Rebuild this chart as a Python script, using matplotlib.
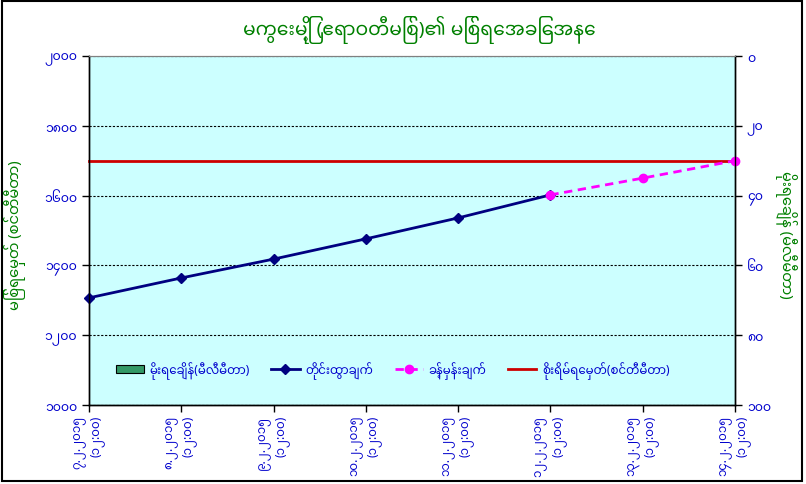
import matplotlib
matplotlib.use("Agg")
import matplotlib.pyplot as plt
from matplotlib import font_manager
from matplotlib.ft2font import FT2Font
from matplotlib.patches import Rectangle
import numpy as np

# ── data ────────────────────────────────────────────────────────────────
dates = ["၇.၂.၂၀၁၅", "၈.၂.၂၀၁၅", "၉.၂.၂၀၁၅", "၁၀.၂.၂၀၁၅",
         "၁၁.၂.၂၀၁၅", "၁၂.၂.၂၀၁၅", "၁၃.၂.၂၀၁၅", "၁၄.၂.၂၀၁၅"]
obs_time = "(၁၂:၀၀)"
rainfall = [0, 0, 0, 0, 0, 0, 0, 0]
measured = [1307, 1364, 1418, 1476, 1536, 1602, np.nan, np.nan]
forecast = [np.nan, np.nan, np.nan, np.nan, np.nan, 1602, 1650, 1700]
danger = [1700] * 8

level_ticks = [1000, 1200, 1400, 1600, 1800, 2000]
level_labels = ["၁၀၀၀", "၁၂၀၀", "၁၄၀၀", "၁၆၀၀", "၁၈၀၀", "၂၀၀၀"]
rain_ticks = [0, 20, 40, 60, 80, 100]
rain_labels = ["၀", "၂၀", "၄၀", "၆၀", "၈၀", "၁၀၀"]

title = "မကွေးမြို့ (ဧရာဝတီမြစ်)၏ မြစ်ရေအခြေအနေ"
left_label = "မြစ်ရေမှတ် (စင်တီမီတာ)"
right_label = "မိုးရေချိန် (မီလီမီတာ)"
series_names = ["မိုးရေချိန်(မီလီမီတာ)", "တိုင်းထွာချက်", "ခန့်မှန်းချက်",
                "စိုးရိမ်ရေမှတ်(စင်တီမီတာ)"]


def _myanmar_font():
    """Pick an installed font that has Myanmar glyphs (prefer the Noto one)."""
    found = []
    for f in font_manager.fontManager.ttflist:
        try:
            if 0x1000 in FT2Font(f.fname).get_charmap():
                found.append(f.name)
        except Exception:
            continue
    for pref in ("Noto Sans Myanmar", "Noto Sans Myanmar UI", "Padauk",
                 "Myanmar Text", "Pyidaungsu", "Myanmar3"):
        if pref in found:
            return pref
    return found[0] if found else None


_mm = _myanmar_font()
FAMILY = [_mm, "DejaVu Sans"] if _mm else ["DejaVu Sans"]
plt.rcParams["font.family"] = FAMILY

GREEN = "#008000"
BLUE = "#0000CC"
BG = "#CCFFFF"

fig = plt.figure(figsize=(8.06, 4.85), dpi=100)
fig.patch.set_facecolor("white")
ax = fig.add_axes([0.1104, 0.1629, 0.8015, 0.7196])
ax.set_facecolor(BG)
ax2 = ax.twinx()

x = np.arange(len(dates))

bars = ax2.bar(x, rainfall, width=0.5, color="#339966", linewidth=0,
               label=series_names[0])
l1, = ax.plot(x, measured, color="#000080", lw=2, marker="D", ms=5,
              clip_on=False, zorder=4, label=series_names[1])
l2, = ax.plot(x, forecast, color="#FF00FF", lw=2, ls=(0, (3, 2)), marker="o",
              ms=6, clip_on=False, zorder=4, label=series_names[2])
l3, = ax.plot(x, danger, color="#CC0000", lw=2, clip_on=False, zorder=3,
              label=series_names[3])

ax.set_xlim(0, len(dates) - 1)
ax.set_ylim(1000, 2000)
ax2.set_ylim(100, 0)

ax.set_yticks(level_ticks)
ax.set_yticklabels(level_labels)
ax2.set_yticks(rain_ticks)
ax2.set_yticklabels(rain_labels)
ax.set_xticks(x)
ax.set_xticklabels([f"{d}\n{obs_time}" for d in dates], rotation=90,
                   ha="center", va="top", multialignment="right",
                   linespacing=1.25)

ax.set_axisbelow(True)
ax.yaxis.grid(True, color="black", lw=0.8, ls=(0, (2, 1.5)))

for a in (ax, ax2):
    a.tick_params(colors="black", labelcolor=BLUE, labelsize=9, length=5,
                  direction="out", width=1)
    for lab in a.get_xticklabels() + a.get_yticklabels():
        lab.set_fontweight("bold")
    a.spines["top"].set_color("#808080")
    a.spines["top"].set_linewidth(0.8)
    for s in ("left", "right", "bottom"):
        a.spines[s].set_color("black")
        a.spines[s].set_linewidth(1)
ax.tick_params(axis="x", labelsize=8.5, pad=2)

fig.text(0.52, 0.938, title, ha="center", va="center", color=GREEN,
         fontsize=13.5, fontweight="bold")
fig.text(0.019, 0.515, left_label, ha="center", va="center", rotation=90,
         color=GREEN, fontsize=10.5, fontweight="bold")
fig.text(0.975, 0.515, right_label, ha="center", va="center", rotation=-90,
         color=GREEN, fontsize=10.5, fontweight="bold")

leg = ax2.legend([bars, l1, l2, l3], series_names, loc="center",
                 bbox_to_anchor=(0.47, 0.10), ncol=4, frameon=False,
                 handlelength=2.4, columnspacing=1.8, handletextpad=0.5,
                 prop={"size": 8.5, "weight": "bold", "family": FAMILY})
for t in leg.get_texts():
    t.set_color(BLUE)
h0 = leg.legend_handles[0]
h0.set_edgecolor("black")
h0.set_linewidth(0.8)

# outer chart border
fig.patches.append(Rectangle((0.002, 0.006), 0.993, 0.99, transform=fig.transFigure,
                             fill=False, edgecolor="black", lw=1.5))

fig.savefig("out.png", dpi=100)
